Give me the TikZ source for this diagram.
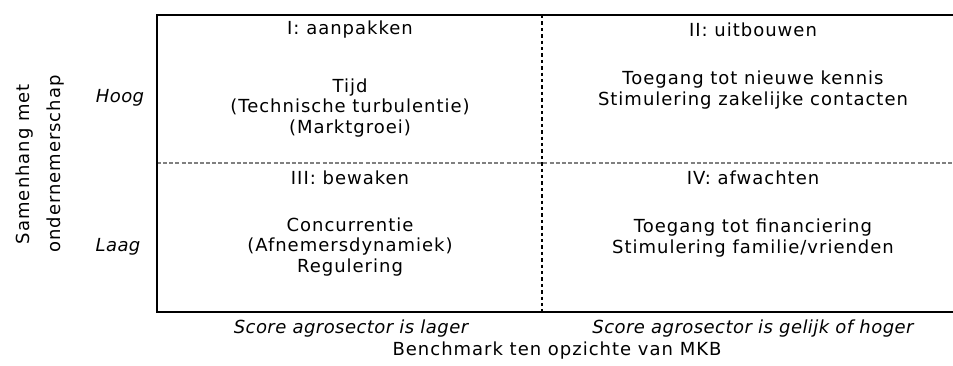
\documentclass[tikz,border=0pt]{standalone}
\usepackage{fontspec}
\setmainfont{DejaVu Sans}[LetterSpace=5.5, ItalicFeatures={LetterSpace=2.5}]
\usetikzlibrary{positioning}

\tikzset{
  txt/.style={align=center, inner sep=0pt, font=\fontsize{13.5}{15.2}\selectfont},
  ital/.style={txt, font=\fontsize{13.5}{15.2}\selectfont\itshape},
  frame/.style={line width=1.6pt},
  hdiv/.style={gray, line width=0.9pt, dash pattern=on 3pt off 1.6pt},
  vdiv/.style={black, line width=1pt, dash pattern=on 2.6pt off 2.2pt}
}

\begin{document}
\begin{tikzpicture}[x=0.75pt, y=-0.75pt]
            \useasboundingbox (0,0) rectangle (953,365);

            % Frame
            \coordinate (tl) at (157,15);
            \coordinate (tr) at (953,15);
            \coordinate (bl) at (157,312);
            \coordinate (br) at (953,312);
            \coordinate (mt) at (542,15);
            \coordinate (mb) at (542,312);
            \coordinate (ml) at (157,163);
            \coordinate (mr) at (953,163);
            \draw[hdiv] (ml) -- (mr);
            \draw[vdiv] (mt) -- (mb);
            \draw[frame] (tr) -- (tl) -- (bl) -- (br);

            % Quadrants
            \node[txt] (t1) at (350,30) {I: aanpakken};
            \node[txt] (b1) at (350,108) {Tijd\\(Technische turbulentie)\\(Marktgroei)};
            \node[txt] (t2) at (753,30) {II: uitbouwen};
            \node[txt] (b2) at (753,90) {Toegang tot nieuwe kennis\\Stimulering zakelijke contacten};
            \node[txt] (t3) at (350,178) {III: bewaken};
            \node[txt] (b3) at (350,247) {Concurrentie\\(Afnemersdynamiek)\\Regulering};
            \node[txt] (t4) at (753,178) {IV: afwachten};
            \node[txt] (b4) at (753,238) {Toegang tot financiering\\Stimulering familie/vrienden};

            % Axes
            \node[ital] (hoog) at (120,98) {Hoog};
            \node[ital] (laag) at (118,247) {Laag};
            \node[txt, rotate=90, font=\fontsize{13.5}{23}\selectfont] (yas) at (40,164) {Samenhang met\\ondernemerschap};
            \node[ital] (lager) at (351,329) {Score agrosector is lager};
            \node[ital] (hoger) at (753,329) {Score agrosector is gelijk of hoger};
            \node[txt] (xas) at (557,351) {Benchmark ten opzichte van MKB};
        \end{tikzpicture}
\end{document}
